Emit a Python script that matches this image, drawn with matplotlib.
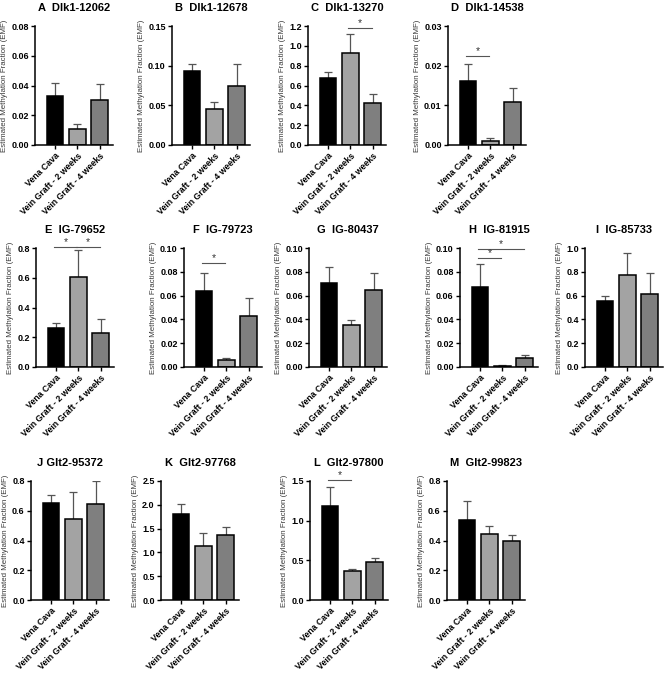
import numpy as np
import matplotlib.pyplot as plt

plt.rcParams['font.family'] = ['Liberation Sans', 'DejaVu Sans']

groups = ['Vena Cava', 'Vein Graft - 2 weeks', 'Vein Graft - 4 weeks']
titles = ['A  Dlk1-12062', 'B  Dlk1-12678', 'C  Dlk1-13270', 'D  Dlk1-14538',
          'E  IG-79652', 'F  IG-79723', 'G  IG-80437', 'H  IG-81915', 'I  IG-85733',
          'J Glt2-95372', 'K  Glt2-97768', 'L  Glt2-97800', 'M  Glt2-99823']

# bar means
means = [[0.0332, 0.0108, 0.0303],
         [0.0937, 0.0450, 0.0744],
         [0.677, 0.927, 0.427],
         [0.01625, 0.0010, 0.0108],
         [0.259, 0.608, 0.230],
         [0.0636, 0.0056, 0.0431],
         [0.0702, 0.0351, 0.0643],
         [0.0674, 0.0010, 0.0073],
         [0.552, 0.769, 0.617],
         [0.655, 0.547, 0.646],
         [1.81, 1.138, 1.362],
         [1.19, 0.363, 0.476],
         [0.539, 0.446, 0.399]]
# upper error (SEM)
errs = [[0.0083, 0.0033, 0.0105],
        [0.0083, 0.0088, 0.0276],
        [0.056, 0.196, 0.083],
        [0.0042, 0.0007, 0.0036],
        [0.038, 0.181, 0.090],
        [0.0157, 0.0022, 0.0152],
        [0.0135, 0.0042, 0.0144],
        [0.0188, 0.0007, 0.0031],
        [0.042, 0.189, 0.172],
        [0.053, 0.179, 0.154],
        [0.215, 0.272, 0.174],
        [0.23, 0.025, 0.059],
        [0.124, 0.051, 0.038]]
ymax = [0.08, 0.15, 1.2, 0.03, 0.8, 0.10, 0.10, 0.10, 1.0, 0.8, 2.5, 1.5, 0.8]
ystep = [0.02, 0.05, 0.2, 0.01, 0.2, 0.02, 0.02, 0.02, 0.2, 0.2, 0.5, 0.5, 0.2]
ydec = [2, 2, 1, 2, 1, 2, 2, 2, 1, 1, 1, 1, 1]
# significance brackets: (panel, from group, to group, height)
sig = [(2, 1, 2, 1.18), (3, 0, 1, 0.0225), (4, 0, 1, 0.807), (4, 1, 2, 0.807),
       (5, 0, 1, 0.0874), (7, 0, 1, 0.0913), (7, 0, 2, 0.0989), (11, 0, 1, 1.51)]

colors = ['#000000', '#a3a3a3', '#7f7f7f']

# axes placement in pixels: (left, top of axes)
pos = [(35, 26), (172, 26), (308, 26), (448, 26),
       (36, 248), (184, 248), (309, 248), (460, 248), (585, 248),
       (31, 481), (161, 481), (310, 481), (447, 481)]
W, H = 669, 673
aw, ah = 78, 119

fig = plt.figure(figsize=(W / 100, H / 100), dpi=100)
x = np.arange(3)
axes = []
for i in range(13):
    l, t = pos[i]
    ax = fig.add_axes([l / W, (H - t - ah) / H, aw / W, ah / H])
    axes.append(ax)
    ax.bar(x, means[i], width=0.75, color=colors, edgecolor='black', linewidth=1.1, zorder=2)
    ax.errorbar(x, means[i], yerr=[np.zeros(3), errs[i]], fmt='none', ecolor='#555555',
                elinewidth=0.9, capsize=3, capthick=0.9, zorder=1)
    ax.set_xlim(-0.9, 2.6)
    ax.set_ylim(0, ymax[i])
    yt = np.arange(0, ymax[i] + ystep[i] / 2, ystep[i])
    ax.set_yticks(yt)
    ax.set_yticklabels([f'{v:.{ydec[i]}f}' for v in yt], fontsize=6.5, fontweight='bold')
    ax.set_xticks(x)
    ax.set_xticklabels(groups, rotation=45, ha='right', rotation_mode='anchor',
                       fontsize=6.3, fontweight='bold')
    ax.tick_params(axis='both', width=1, length=3, pad=1.5)
    for s in ['top', 'right']:
        ax.spines[s].set_visible(False)
    for s in ['left', 'bottom']:
        ax.spines[s].set_linewidth(1.1)
    ax.set_ylabel('Estimated Methylation Fraction (EMF)', fontsize=5.7, color='#3a3a3a', labelpad=2.5)
    ax.set_title(titles[i], fontsize=8, fontweight='bold', pad=11)

for p, a, b, h in sig:
    ax = axes[p]
    ax.plot([a - 0.1, b - 0.05], [h, h], color='#555555', lw=0.8, clip_on=False)
    ax.text((a + b) / 2 - 0.07, h, '*', ha='center', va='bottom', fontsize=7.5, color='#333333',
            clip_on=False)

fig.savefig('out.png', dpi=100)
